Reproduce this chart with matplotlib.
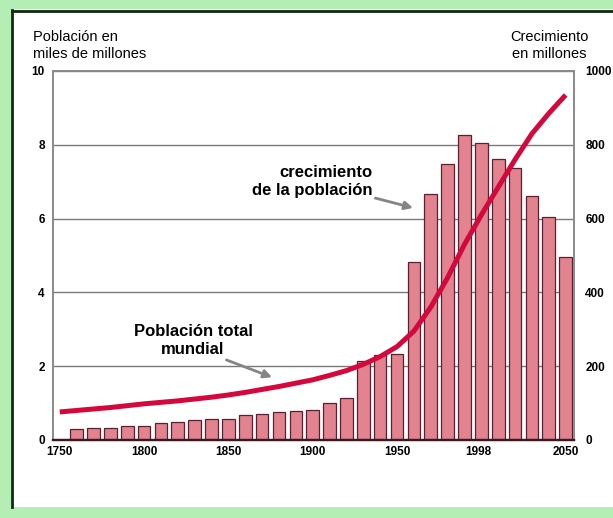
import matplotlib.pyplot as plt
from matplotlib.patches import Rectangle

# growth per decade, millions (right axis)
bar_years = [1760, 1770, 1780, 1790, 1800, 1810, 1820, 1830, 1840, 1850,
             1860, 1870, 1880, 1890, 1900, 1910, 1920, 1930, 1940, 1950,
             1960, 1970, 1980, 1990, 2000, 2010, 2020, 2030, 2040, 2050]
growth = [30, 33, 33, 38, 38, 47, 50, 54, 56, 58,
          69, 70, 77, 79, 81, 101, 113, 214, 230, 233,
          483, 666, 747, 827, 806, 762, 736, 661, 605, 497]

# world population, thousands of millions (left axis)
pop_years = [1750, 1760, 1770, 1780, 1790, 1800, 1810, 1820, 1830, 1840,
             1850, 1860, 1870, 1880, 1890, 1900, 1910, 1920, 1930, 1940,
             1950, 1960, 1970, 1980, 1990, 2000, 2010, 2020, 2030, 2040, 2050]
population = [0.76, 0.80, 0.84, 0.88, 0.93, 0.98, 1.02, 1.06, 1.11, 1.16,
              1.22, 1.29, 1.37, 1.45, 1.54, 1.63, 1.75, 1.88, 2.05, 2.26,
              2.53, 2.95, 3.60, 4.40, 5.30, 6.10, 6.85, 7.60, 8.30, 8.85, 9.35]

x_ticks = [1750, 1800, 1850, 1900, 1950, 1998, 2050]
x_labels = ['1750', '1800', '1850', '1900', '1950', '1998', '2050']
left_ticks = [0, 2, 4, 6, 8, 10]
right_ticks = [0, 200, 400, 600, 800, 1000]

plt.rcParams['font.family'] = ['Liberation Sans', 'DejaVu Sans']

fig = plt.figure(figsize=(6.13, 5.18), dpi=100)
fig.patch.set_facecolor('white')

# greenish frame on top, left and bottom
green = '#b4eeb4'
for r in [(0, 0.982, 1, 0.018), (0, 0, 0.018, 1), (0, 0, 1, 0.022)]:
    fig.add_artist(Rectangle(r[:2], r[2], r[3], transform=fig.transFigure,
                             facecolor=green, edgecolor='none', zorder=0))
fig.add_artist(plt.Line2D([0.019, 0.019], [0.022, 0.981], transform=fig.transFigure,
                          color='#0d2b0d', lw=2))
fig.add_artist(plt.Line2D([0.019, 1.0], [0.979, 0.979], transform=fig.transFigure,
                          color='#0d2b0d', lw=2))

ax2 = fig.add_axes([0.0865, 0.1506, 0.85, 0.7124])
ax = ax2.twinx()

# bars on the right axis
ax2.bar(bar_years, growth, width=7.5, color='#e2838f', edgecolor='#5a2230',
        linewidth=0.9, zorder=2)
ax2.set_ylim(0, 1000)
ax2.set_yticks(right_ticks)
ax2.set_axisbelow(True)
ax2.grid(axis='y', color='#7a7a7a', lw=1.0)
ax2.yaxis.tick_right()
ax2.tick_params(axis='y', length=0, pad=8, labelsize=8.5)

# population line on the left axis
ax.yaxis.tick_left()
ax.plot(pop_years, population, color='#d4083c', lw=3.6, solid_capstyle='butt')
ax.set_ylim(0, 10)
ax.set_yticks(left_ticks)
ax.tick_params(axis='y', length=0, pad=6, labelsize=8.5)

ax2.set_xlim(1746, 2055)
ax2.set_xticks(x_ticks)
ax2.set_xticklabels(x_labels)
ax2.tick_params(axis='x', length=0, pad=4, labelsize=8.5)

for a in (ax, ax2):
    for lab in a.get_yticklabels() + a.get_xticklabels():
        lab.set_fontweight('bold')
    for side in ('left', 'top', 'right'):
        a.spines[side].set_color('#8a8a8a')
        a.spines[side].set_linewidth(1.2)
    a.spines['bottom'].set_color('#3a1a20')
    a.spines['bottom'].set_linewidth(1.6)

ax.annotate('crecimiento\nde la población', xy=(1959.5, 6.29), xytext=(1935.5, 7.0),
            ha='right', va='center', multialignment='right', fontsize=12,
            fontweight='bold', linespacing=1.3,
            arrowprops=dict(arrowstyle='-|>', color='#858585', lw=2,
                            mutation_scale=12, shrinkA=0, shrinkB=0))
ax.annotate('Población total\nmundial', xy=(1875.9, 1.70), xytext=(1829, 2.7),
            ha='center', va='center', fontsize=12, fontweight='bold',
            linespacing=1.3,
            arrowprops=dict(arrowstyle='-|>', color='#858585', lw=2,
                            mutation_scale=12, shrinkA=0, shrinkB=0,
                            relpos=(0.72, 0.0)))

fig.text(0.054, 0.912, 'Población en\nmiles de millones', ha='left', va='center',
         fontsize=10.5, linespacing=1.3)
fig.text(0.96, 0.912, 'Crecimiento\nen millones', ha='right', va='center',
         multialignment='center', fontsize=10.5, linespacing=1.3)

fig.savefig('out.png', dpi=100)
